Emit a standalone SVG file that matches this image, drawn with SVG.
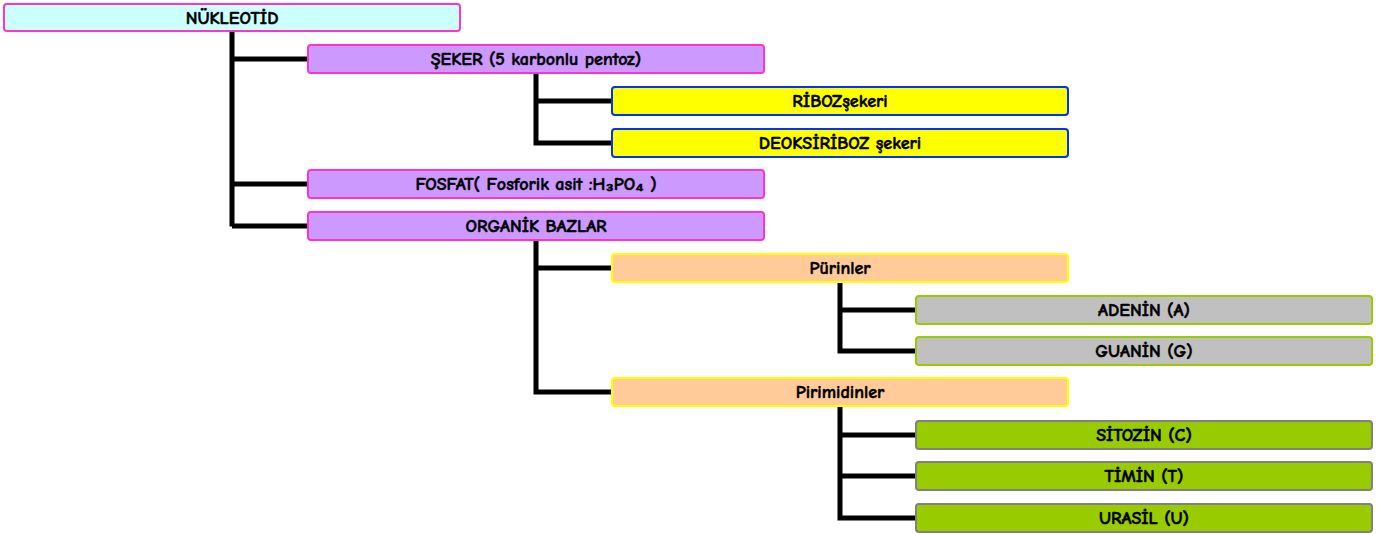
<svg xmlns="http://www.w3.org/2000/svg" width="1384" height="535" viewBox="0 0 1384 535">
<style>
rect{stroke-width:2}
text{font-family:"Comic Neue","Liberation Sans",Arial,sans-serif;font-weight:bold;font-size:18px;text-anchor:middle;fill:#000;stroke:#000;stroke-width:0.5}
.root{fill:#CCFFFF;stroke:#FF33CC}
.l1{fill:#CC99FF;stroke:#FF33CC}
.sug{fill:#FFFF00;stroke:#0033FF}
.grp{fill:#FFCC99;stroke:#FFFF00}
.pur{fill:#C0C0C0;stroke:#99CC00}
.pyr{fill:#99CC00;stroke:#808080}
.conn path{fill:none;stroke:#000;stroke-width:5;stroke-linejoin:miter}
</style>
<rect width="1384" height="535" fill="#fff"/>
<g class="conn" id="connectors">
<path d="M232 31 V226.5 M232 59 H308 M232 184 H308 M232 226 H308"/>
<path d="M536 73 V143 H612 M536 101 H612"/>
<path d="M536 240 V392 H612 M536 268 H612"/>
<path d="M840 282 V351 H916 M840 310 H916"/>
<path d="M840 406 V518 H916 M840 435 H916 M840 476 H916"/>
</g>
<g id="n-nukleotid"><rect class="root" x="4" y="4" width="456" height="27" rx="3"/><text x="232" y="23.5">NÜKLEOTİD</text></g>
<g id="n-seker"><rect class="l1" x="308" y="45" width="456" height="28" rx="3"/><text x="536" y="65">ŞEKER (5 karbonlu pentoz)</text></g>
<g id="n-riboz"><rect class="sug" x="612" y="87" width="456" height="28" rx="3"/><text x="840" y="107">RİBOZşekeri</text></g>
<g id="n-deoksiriboz"><rect class="sug" x="612" y="129" width="456" height="28" rx="3"/><text x="840" y="149">DEOKSİRİBOZ şekeri</text></g>
<g id="n-fosfat"><rect class="l1" x="308" y="170" width="456" height="28" rx="3"/><text x="536" y="190">FOSFAT( Fosforik asit :H₃PO₄ )</text></g>
<g id="n-organik"><rect class="l1" x="308" y="212" width="456" height="28" rx="3"/><text x="536" y="232">ORGANİK BAZLAR</text></g>
<g id="n-purinler"><rect class="grp" x="612" y="254" width="456" height="28" rx="3"/><text x="840" y="274">Pürinler</text></g>
<g id="n-adenin"><rect class="pur" x="916" y="296" width="456" height="28" rx="3"/><text x="1144" y="316">ADENİN (A)</text></g>
<g id="n-guanin"><rect class="pur" x="916" y="337" width="456" height="28" rx="3"/><text x="1144" y="357">GUANİN (G)</text></g>
<g id="n-pirimidinler"><rect class="grp" x="612" y="378" width="456" height="28" rx="3"/><text x="840" y="398">Pirimidinler</text></g>
<g id="n-sitozin"><rect class="pyr" x="916" y="421" width="456" height="28" rx="3"/><text x="1144" y="441">SİTOZİN (C)</text></g>
<g id="n-timin"><rect class="pyr" x="916" y="462" width="456" height="28" rx="3"/><text x="1144" y="482">TİMİN (T)</text></g>
<g id="n-urasil"><rect class="pyr" x="916" y="504" width="456" height="28" rx="3"/><text x="1144" y="524">URASİL (U)</text></g>
</svg>
